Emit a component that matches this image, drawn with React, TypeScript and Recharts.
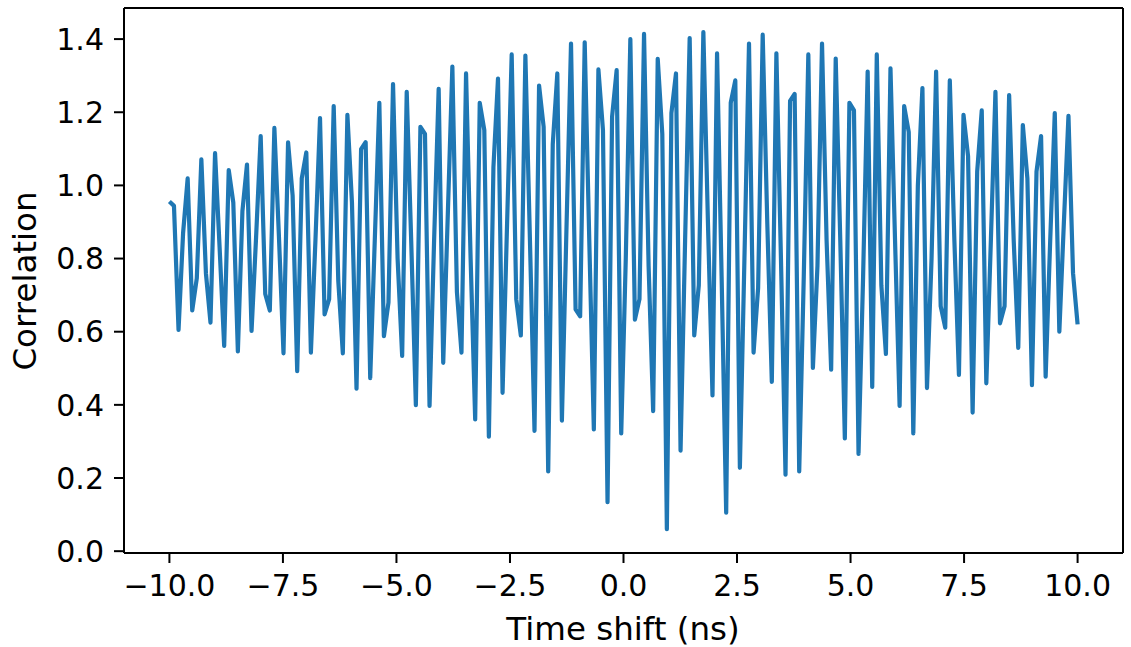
import { LineChart, Line, XAxis, YAxis, Label, ReferenceLine } from 'recharts';

// sample window (ns)
const T_START = -10;
const T_END = 10;

const correlation = [
  0.956, 0.944, 0.605, 0.87, 1.019, 0.658, 0.746, 1.071, 0.76, 0.625,
  1.088, 0.83, 0.561, 1.042, 0.953, 0.546, 0.93, 1.057, 0.602, 0.86,
  1.135, 0.703, 0.658, 1.157, 0.86, 0.541, 1.118, 0.972, 0.492, 1.019,
  1.09, 0.543, 0.85, 1.184, 0.647, 0.689, 1.217, 0.74, 0.541, 1.193,
  0.953, 0.444, 1.099, 1.118, 0.473, 0.85, 1.226, 0.588, 0.68, 1.277,
  0.8, 0.534, 1.256, 0.84, 0.399, 1.16, 1.141, 0.397, 0.85, 1.264,
  0.515, 0.92, 1.325, 0.708, 0.543, 1.306, 0.8, 0.36, 1.226, 1.151,
  0.313, 1.05, 1.292, 0.433, 0.9, 1.358, 0.689, 0.59, 1.355, 0.85,
  0.329, 1.273, 1.16, 0.218, 1.113, 1.306, 0.357, 0.88, 1.388, 0.661,
  0.642, 1.391, 0.85, 0.333, 1.317, 1.151, 0.134, 1.188, 1.315, 0.322,
  0.8, 1.4, 0.633, 0.689, 1.414, 0.78, 0.383, 1.346, 1.141, 0.06,
  1.198, 1.306, 0.275, 0.85, 1.403, 0.59, 0.727, 1.419, 0.9, 0.426,
  1.361, 0.75, 0.105, 1.226, 1.287, 0.228, 0.8, 1.388, 0.543, 0.72,
  1.412, 0.9, 0.463, 1.361, 0.8, 0.209, 1.231, 1.25, 0.218, 0.75,
  1.358, 0.501, 0.78, 1.388, 0.85, 0.496, 1.347, 0.85, 0.308, 1.226,
  1.205, 0.266, 0.75, 1.311, 0.449, 1.358, 0.727, 0.539, 1.32, 0.85,
  0.397, 1.217, 1.146, 0.322, 1.0, 1.266, 0.446, 0.8, 1.311, 0.67,
  0.611, 1.287, 0.85, 0.482, 1.193, 1.08, 0.379, 1.038, 1.205, 0.459,
  0.85, 1.256, 0.623, 0.67, 1.247, 0.85, 0.556, 1.165, 1.019, 0.454,
  1.038, 1.135, 0.477, 0.85, 1.198, 0.6, 0.9, 1.19, 0.76, 0.62,
];

const xTicks = [-10, -7.5, -5, -2.5, 0, 2.5, 5, 7.5, 10];
const yTicks = [0, 0.2, 0.4, 0.6, 0.8, 1.0, 1.2, 1.4];
const X_DOMAIN = [-11, 11];
const Y_DOMAIN = [-0.005, 1.485];

const data = correlation.map((c, i) => ({
  t: T_START + (i * (T_END - T_START)) / (correlation.length - 1),
  c,
}));

const FONT = 'DejaVu Sans';
const tickStyle = { fill: '#000', fontSize: 30, fontFamily: FONT };
const fmt = (v: number) => v.toFixed(1).replace('-', '\u2212');

export default function App() {
  return (
    <div style={{ position: 'absolute', left: 0, top: 0, background: '#fff' }}>
      <LineChart width={1131} height={647} data={data} margin={{ top: 8, right: 8, left: 0, bottom: 0 }}>
        <XAxis
          dataKey="t"
          type="number"
          domain={X_DOMAIN}
          ticks={xTicks}
          interval={0}
          allowDataOverflow
          height={94}
          tickFormatter={fmt}
          tick={tickStyle}
          tickSize={10}
          tickMargin={12}
          axisLine={{ stroke: '#000', strokeWidth: 2 }}
          tickLine={{ stroke: '#000', strokeWidth: 2 }}
        >
          <Label
            content={() => (
              <text x={623} y={640} textAnchor="middle" fontSize={32.5} fontFamily={FONT} fill="#000">
                Time shift (ns)
              </text>
            )}
          />
        </XAxis>
        <YAxis
          type="number"
          domain={Y_DOMAIN}
          ticks={yTicks}
          interval={0}
          allowDataOverflow
          width={124}
          tickFormatter={fmt}
          tick={tickStyle}
          tickSize={10}
          tickMargin={10}
          axisLine={{ stroke: '#000', strokeWidth: 2 }}
          tickLine={{ stroke: '#000', strokeWidth: 2 }}
        >
          <Label
            content={() => (
              <text
                x={36}
                y={281}
                transform="rotate(-90 36 281)"
                textAnchor="middle"
                fontSize={32.5}
                fontFamily={FONT}
                fill="#000"
              >
                Correlation
              </text>
            )}
          />
        </YAxis>
        {/* top and right spines */}
        <ReferenceLine y={Y_DOMAIN[1]} stroke="#000" strokeWidth={2} />
        <ReferenceLine x={X_DOMAIN[1]} stroke="#000" strokeWidth={2} />
        <Line
          type="linear"
          dataKey="c"
          stroke="#1f77b4"
          strokeWidth={4.2}
          strokeLinejoin="round"
          dot={false}
          isAnimationActive={false}
        />
      </LineChart>
    </div>
  );
}
